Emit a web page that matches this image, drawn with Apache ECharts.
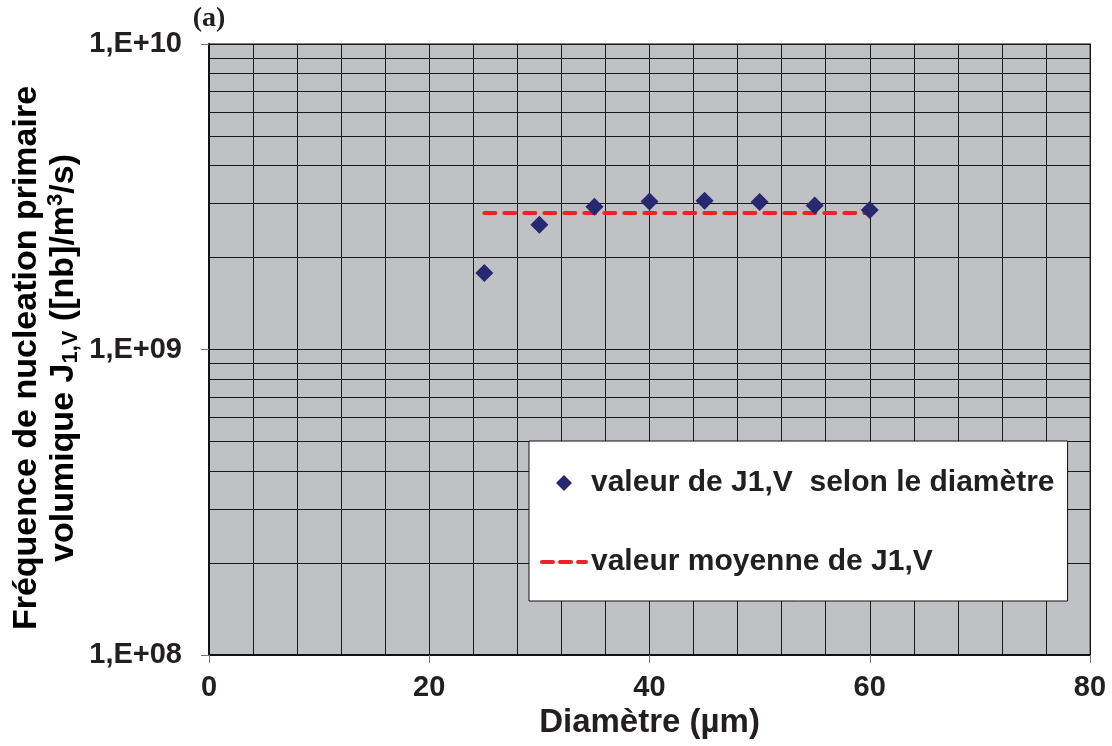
<!DOCTYPE html>
<html>
<head>
<meta charset="utf-8">
<script src="https://cdn.jsdelivr.net/npm/echarts@6/dist/echarts.min.js"></script>
<style>
html,body{margin:0;padding:0;background:#fff;}
#c{width:1112px;height:746px;}
</style>
</head>
<body>
<div id="c"></div>
<script>
// ---- data ----
const diameters = [25, 30, 35, 40, 45, 50, 55, 60];
const j1vValues = [1.78e9, 2.56e9, 2.93e9, 3.05e9, 3.07e9, 3.04e9, 2.96e9, 2.86e9];
const meanX = [25, 60];
const meanValue = 2.80e9;
const logMinorLines = [2e8, 3e8, 4e8, 5e8, 6e8, 7e8, 8e8, 9e8, 2e9, 3e9, 4e9, 5e9, 6e9, 7e9, 8e9, 9e9];
const yTickLabels = {8: '1,E+08', 9: '1,E+09', 10: '1,E+10'};
const seriesNames = ['valeur de J1,V  selon le diamètre', 'valeur moyenne de J1,V'];

const FONT = '"Liberation Sans", Arial, Helvetica, sans-serif';
const chart = echarts.init(document.getElementById('c'));

chart.setOption({
  animation: false,
  backgroundColor: '#ffffff',
  grid: {
    left: 209, top: 44, right: 22, bottom: 91,
    show: true, backgroundColor: '#c0c1c4', borderColor: '#7f7f7f', borderWidth: 2
  },
  xAxis: {
    type: 'value', min: 0, max: 80, interval: 20,
    name: 'Diamètre (µm)', nameLocation: 'middle', nameGap: 41,
    nameTextStyle: {fontFamily: FONT, fontWeight: 'bold', fontSize: 33, color: '#231f20'},
    axisLine: {show: true, lineStyle: {color: '#111', width: 2}},
    axisTick: {show: true, inside: false, length: 8, lineStyle: {color: '#777', width: 1}},
    minorTick: {show: false, splitNumber: 5},
    splitLine: {show: true, lineStyle: {color: '#1a1a1a', width: 1}},
    minorSplitLine: {show: true, lineStyle: {color: '#1a1a1a', width: 1}},
    axisLabel: {margin: 18, fontFamily: FONT, fontWeight: 'bold', fontSize: 29, color: '#231f20'}
  },
  yAxis: {
    type: 'log', logBase: 10, min: 1e8, max: 1e10,
    axisLine: {show: true, lineStyle: {color: '#111', width: 2}},
    axisTick: {show: true, inside: false, length: 8, lineStyle: {color: '#777', width: 1}},
    splitLine: {show: true, lineStyle: {color: '#1a1a1a', width: 1}},
    axisLabel: {
      margin: 27, fontFamily: FONT, fontWeight: 'bold', fontSize: 29, color: '#231f20',
      formatter: function (v) {
        const e = Math.round(Math.log10(v));
        return yTickLabels[e] || '';
      }
    }
  },
  legend: {
    orient: 'vertical', left: 529, top: 441, z: 20,
    backgroundColor: '#ffffff', borderColor: '#111', borderWidth: 1,
    padding: [27, 13, 24, 11],
    itemWidth: 44, itemHeight: 16, itemGap: 49, itemTextGap: 5,
    textStyle: {fontFamily: FONT, fontWeight: 'bold', fontSize: 30, color: '#231f20', lineHeight: 30},
    data: [
      {name: seriesNames[0], icon: 'path://M0,0 M44,16 M22,0 L30,8 L22,16 L14,8 Z'},
      {name: seriesNames[1], itemStyle: {opacity: 0},
       lineStyle: {color: '#ee2229', width: 4, type: [11, 7], cap: 'round'}}
    ]
  },
  graphic: [
    {
      type: 'text', x: 45, y: 358, rotation: Math.PI / 2, z: 20,
      style: {
        text: '{a|Fréquence de nucleation primaire}\n{a|volumique J}{sub|1,V}{a| ([nb]/m}{sup|3}{a|/s)}',
        align: 'center', verticalAlign: 'middle',
        rich: {
          a: {fontFamily: FONT, fontWeight: 'bold', fontSize: 34, color: '#231f20', lineHeight: 37},
          sub: {fontFamily: FONT, fontWeight: 'bold', fontSize: 22, color: '#231f20', lineHeight: 37, verticalAlign: 'bottom'},
          sup: {fontFamily: FONT, fontWeight: 'bold', fontSize: 22, color: '#231f20', lineHeight: 37, verticalAlign: 'top'}
        }
      }
    },
    {
      type: 'text', x: 209, y: 19, z: 20,
      style: {text: '(a)', fontFamily: '"Liberation Serif", "Times New Roman", serif', fontWeight: 'bold', fontSize: 28, fill: '#231f20', align: 'center', verticalAlign: 'middle'}
    }
  ],
  series: [
    {
      name: 'gridlines', type: 'line', data: [], z: 1, silent: true,
      markLine: {
        silent: true, symbol: 'none', label: {show: false}, z: 1,
        lineStyle: {color: '#1a1a1a', width: 1, type: 'solid'},
        data: logMinorLines.map(v => ({yAxis: v}))
      }
    },
    {
      name: seriesNames[1], type: 'line', z: 3,
      data: meanX.map(x => [x, meanValue]),
      symbol: 'none',
      lineStyle: {color: '#ee2229', width: 4, type: [11, 9], cap: 'round'},
      itemStyle: {color: '#ee2229'}
    },
    {
      name: seriesNames[0], type: 'scatter', z: 4,
      data: diameters.map((d, i) => [d, j1vValues[i]]),
      symbol: 'diamond', symbolSize: 18,
      itemStyle: {color: '#27286f', opacity: 1}
    }
  ]
});
</script>
</body>
</html>
